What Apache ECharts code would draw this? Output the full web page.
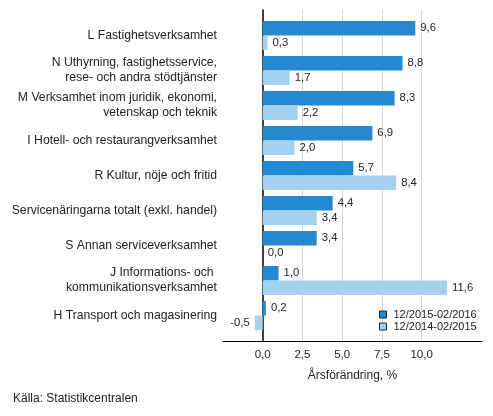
<!DOCTYPE html>
<html><head><meta charset="utf-8">
<script src="https://cdn.jsdelivr.net/npm/echarts@6/dist/echarts.min.js"></script>
<style>html,body{margin:0;padding:0;background:#fff}#c{width:493px;height:416px}</style>
</head><body><div id="c"></div>
<script>
const categories = [
  'L Fastighetsverksamhet',
  'N Uthyrning, fastighetsservice,\nrese- och andra stödtjänster',
  'M Verksamhet inom juridik, ekonomi,\nvetenskap och teknik',
  'I Hotell- och restaurangverksamhet',
  'R Kultur, nöje och fritid',
  'Servicenäringarna totalt (exkl. handel)',
  'S Annan serviceverksamhet',
  'J Informations- och \nkommunikationsverksamhet',
  'H Transport och magasinering'
];
const seriesNames = ['12/2015-02/2016', '12/2014-02/2015'];
const period2016 = [9.6, 8.8, 8.3, 6.9, 5.7, 4.4, 3.4, 1.0, 0.2];
const period2015 = [0.3, 1.7, 2.2, 2.0, 8.4, 3.4, 0.0, 11.6, -0.5];
const tickLabels = ['0,0', '2,5', '5,0', '7,5', '10,0'];
const tickValues = [0, 2.5, 5, 7.5, 10];

const FONT = 'Liberation Sans, Arial, sans-serif';
const fmt = v => v.toFixed(1).replace('.', ',');
const colors = ['#2589d2', '#a5d0ee'];

const chart = echarts.init(document.getElementById('c'), null, {renderer: 'canvas'});
const labelCfg = {
  show: true, distance: 5, color: '#222', fontSize: 11.3, fontFamily: FONT,
  formatter: p => fmt(p.value),
  position: 'right'
};
function mkData(arr) {
  return arr.map(v => v < 0 ? {value: v, label: {position: 'left'}} : v);
}
chart.setOption({
  animation: false,
  textStyle: {fontFamily: FONT},
  grid: [
    {left: 223, right: 11, top: 10, bottom: 75},
    {left: 223, right: 11, top: 18, bottom: 83}
  ],
  xAxis: [
    {
      gridIndex: 0, type: 'value', min: -2.5, max: 13.8, interval: 2.5,
      axisLine: {show: true, lineStyle: {color: '#000', width: 1}},
      axisTick: {show: false},
      axisLabel: {
        color: '#222', fontSize: 11.5, fontFamily: FONT, margin: 8,
        formatter: v => {
          const i = tickValues.findIndex(t => Math.abs(t - v) < 1e-6);
          return i >= 0 ? tickLabels[i] : '';
        }
      },
      splitLine: {show: false},
      name: 'Årsförändring, %', nameLocation: 'middle', nameGap: 29,
      nameTextStyle: {color: '#222', fontSize: 12, fontFamily: FONT}
    },
    {
      gridIndex: 1, type: 'value', min: -2.5, max: 13.8, show: false,
      splitLine: {show: false}
    }
  ],
  yAxis: [
    {
      gridIndex: 0, type: 'value', min: 0, max: 1,
      axisLine: {show: true, onZero: true, lineStyle: {color: '#000', width: 1.5}},
      axisTick: {show: false}, axisLabel: {show: false}, splitLine: {show: false}
    },
    {
      gridIndex: 1, type: 'category', data: categories, inverse: true,
      axisLine: {show: false}, axisTick: {show: false}, splitLine: {show: false},
      axisLabel: {color: '#222', fontSize: 12.2, fontFamily: FONT, margin: 6, lineHeight: 15, align: 'right'}
    }
  ],
  legend: {
    orient: 'vertical', left: 379, top: 309, padding: 0,
    itemWidth: 7, itemHeight: 7, itemGap: 1,
    icon: 'rect',
    textStyle: {color: '#222', fontSize: 11, lineHeight: 11, fontFamily: FONT, padding: [0, 0, 0, 2]},
    data: seriesNames.map((n, i) => ({name: n, itemStyle: {color: colors[i], borderColor: '#222', borderWidth: 1}}))
  },
  series: [
    {
      type: 'scatter', xAxisIndex: 0, yAxisIndex: 0, data: [], silent: true, z: 1,
      markLine: {
        z: 1, silent: true, symbol: ['none', 'none'], animation: false,
        label: {show: false},
        lineStyle: {color: '#d6d6d6', width: 1, type: 'solid'},
        data: tickValues.filter(v => v !== 0).map(v => ({xAxis: v}))
      }
    },
    {
      name: seriesNames[0], type: 'bar', xAxisIndex: 1, yAxisIndex: 1,
      data: mkData(period2016), barWidth: 14.5, barGap: '0%',
      itemStyle: {color: colors[0]}, label: labelCfg, z: 3
    },
    {
      name: seriesNames[1], type: 'bar', xAxisIndex: 1, yAxisIndex: 1,
      data: mkData(period2015), barWidth: 14.5, barGap: '0%',
      itemStyle: {color: colors[1]}, label: labelCfg, z: 3
    }
  ],
  graphic: [{
    type: 'text', left: 13, top: 393,
    style: {text: 'Källa: Statistikcentralen', fill: '#222', font: '12px ' + FONT}
  }]
});
</script></body></html>
